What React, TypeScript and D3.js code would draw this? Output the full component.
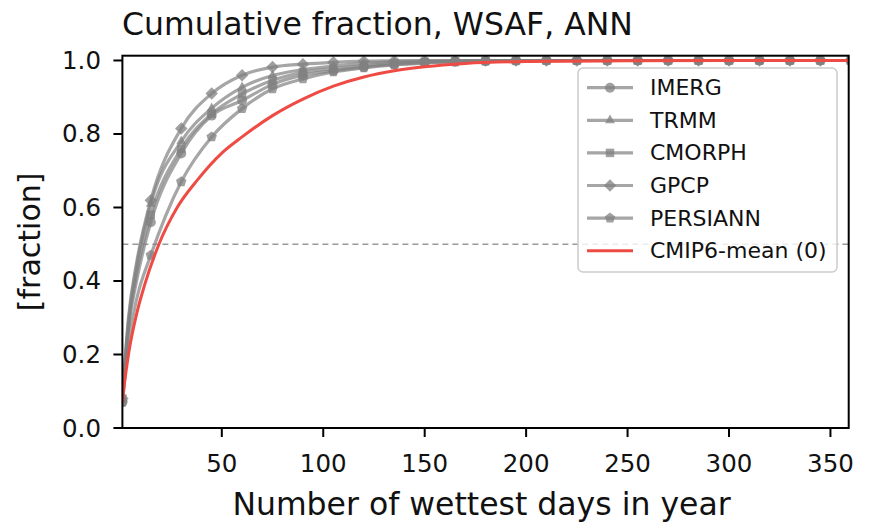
import React from "react";
import * as d3 from "d3";

const DAYS = [1, 4, 8, 15, 30, 45, 60, 75, 90, 105, 120, 135, 150, 165, 180, 195, 210, 225, 240, 255, 270, 285, 300, 315, 330, 345, 360];
const GPCP = [0.08, 0.30, 0.45, 0.62, 0.815, 0.91, 0.96, 0.982, 0.99, 0.995, 0.998, 0.999, 1, 1, 1, 1, 1, 1, 1, 1, 1, 1, 1, 1, 1, 1, 1];
const TRMM = [0.08, 0.29, 0.44, 0.61, 0.78, 0.87, 0.927, 0.959, 0.975, 0.985, 0.992, 0.996, 0.998, 0.999, 1, 1, 1, 1, 1, 1, 1, 1, 1, 1, 1, 1, 1];
const CMORPH = [0.08, 0.28, 0.42, 0.58, 0.76, 0.855, 0.909, 0.946, 0.968, 0.978, 0.986, 0.992, 0.996, 0.998, 0.999, 1, 1, 1, 1, 1, 1, 1, 1, 1, 1, 1, 1];
const IMERG = [0.07, 0.27, 0.40, 0.56, 0.747, 0.85, 0.891, 0.935, 0.96, 0.972, 0.982, 0.989, 0.994, 0.997, 0.999, 1, 1, 1, 1, 1, 1, 1, 1, 1, 1, 1, 1];
const PERSIANN = [0.07, 0.23, 0.35, 0.47, 0.67, 0.792, 0.869, 0.923, 0.95, 0.969, 0.98, 0.988, 0.993, 0.996, 0.998, 0.999, 1, 1, 1, 1, 1, 1, 1, 1, 1, 1, 1];

const CMIP_DAYS = [1, 2, 4, 8, 12, 19, 28, 38, 50, 60, 75, 90, 105, 120, 135, 150, 170, 200, 250, 300, 360];
const CMIP_MEAN = [0.07, 0.12, 0.2, 0.31, 0.39, 0.5, 0.6, 0.675, 0.748, 0.792, 0.85, 0.895, 0.93, 0.955, 0.972, 0.983, 0.992, 0.997, 0.999, 1, 1];

const X_TICKS = [50, 100, 150, 200, 250, 300, 350];
const Y_TICKS = [0, 0.2, 0.4, 0.6, 0.8, 1.0];

const SERIES = [
  { name: "IMERG", values: IMERG, marker: "circle" },
  { name: "TRMM", values: TRMM, marker: "triangle" },
  { name: "CMORPH", values: CMORPH, marker: "square" },
  { name: "GPCP", values: GPCP, marker: "diamond" },
  { name: "PERSIANN", values: PERSIANN, marker: "pentagon" },
];

const W = 871, H = 528;
const L = 122.4, R = 848.7, T = 55.7, B = 428;
const FONT = "DejaVu Sans";
const GRAY = "#808080";
const RED = "#ef4b45";

function markerPath(kind: string, r: number): string {
  const pts = (n: number, rot: number, rr: number) => {
    const p = d3.path();
    for (let i = 0; i < n; i++) {
      const a = rot + (i * 2 * Math.PI) / n;
      const x = rr * Math.cos(a), y = rr * Math.sin(a);
      if (i === 0) p.moveTo(x, y); else p.lineTo(x, y);
    }
    p.closePath();
    return p.toString();
  };
  switch (kind) {
    case "circle": {
      const p = d3.path(); p.arc(0, 0, r, 0, 2 * Math.PI); return p.toString();
    }
    case "triangle": return pts(3, -Math.PI / 2, r * 1.15);
    case "square": return pts(4, Math.PI / 4, r * 1.2);
    case "diamond": return pts(4, 0, r * 1.25);
    case "pentagon": return pts(5, -Math.PI / 2, r * 1.1);
  }
  return "";
}

export default function App() {
  const x = d3.scaleLinear().domain([1, 359]).range([L, R]);
  const y = d3.scaleLinear().domain([0, 1.013]).range([B, T]);
  const line = d3.line<[number, number]>().x(d => x(d[0])).y(d => y(d[1])).curve(d3.curveMonotoneX);

  const legX = 578, legY = 68, legW = 259, legH = 204;
  const rowY = (i: number) => 87.7 + i * 32.6;

  return (
    <svg width={W} height={H} style={{ position: "absolute", left: 0, top: 0, background: "#fff" }} fontFamily={FONT}>
      <defs>
        <clipPath id="plot"><rect x={L} y={T} width={R - L} height={B - T} /></clipPath>
      </defs>
      <rect x={0} y={0} width={W} height={H} fill="#fff" />
      <text x={122} y={35} fontSize={31.5} fill="#111">Cumulative fraction, WSAF, ANN</text>
      <g clipPath="url(#plot)">
        <line x1={L} x2={R} y1={y(0.5)} y2={y(0.5)} stroke="#999" strokeWidth={1.4} strokeDasharray="6,4" />
        {SERIES.map(s => {
          const data = DAYS.map((d, i) => [d, s.values[i]] as [number, number]);
          return (
            <g key={s.name}>
              <path d={line(data) || ""} fill="none" stroke={GRAY} strokeOpacity={0.7} strokeWidth={3.2} />
              {data.filter(d => d[0] === 1 || d[0] % 15 === 0).map((d, i) => (
                <path key={i} d={markerPath(s.marker, 5)} transform={`translate(${x(d[0])},${y(d[1])})`} fill={GRAY} fillOpacity={0.75} />
              ))}
            </g>
          );
        })}
        <path d={line(CMIP_DAYS.map((d, i) => [d, CMIP_MEAN[i]] as [number, number])) || ""} fill="none" stroke={RED} strokeWidth={3} />
      </g>
      <rect x={L} y={T} width={R - L} height={B - T} fill="none" stroke="#000" strokeWidth={2} />
      {X_TICKS.map(t => (
        <g key={t}>
          <line x1={x(t)} x2={x(t)} y1={B} y2={B + 9} stroke="#000" strokeWidth={2} />
          <text x={x(t)} y={472} fontSize={24.5} textAnchor="middle" fill="#111">{t}</text>
        </g>
      ))}
      {Y_TICKS.map(t => (
        <g key={t}>
          <line x1={L - 9} x2={L} y1={y(t)} y2={y(t)} stroke="#000" strokeWidth={2} />
          <text x={101} y={y(t)} fontSize={24.5} textAnchor="end" dominantBaseline="central" fill="#111">{t.toFixed(1)}</text>
        </g>
      ))}
      <text x={(L + R) / 2 - 4} y={515} fontSize={31.5} textAnchor="middle" fill="#111">Number of wettest days in year</text>
      <text transform={`translate(29,${(T + B) / 2}) rotate(-90)`} fontSize={30} textAnchor="middle" dominantBaseline="central" fill="#111">[fraction]</text>
      <rect x={legX} y={legY} width={legW} height={legH} rx={5} fill="#fff" fillOpacity={0.8} stroke="#ccc" strokeWidth={1.5} />
      {SERIES.map((s, i) => (
        <g key={s.name}>
          <line x1={587} x2={633} y1={rowY(i)} y2={rowY(i)} stroke={GRAY} strokeOpacity={0.7} strokeWidth={3.2} />
          <path d={markerPath(s.marker, 5)} transform={`translate(610,${rowY(i)})`} fill={GRAY} fillOpacity={0.75} />
          <text x={650} y={rowY(i)} fontSize={22} dominantBaseline="central" fill="#111">{s.name}</text>
        </g>
      ))}
      <line x1={587} x2={633} y1={rowY(5)} y2={rowY(5)} stroke={RED} strokeWidth={3} />
      <text x={650} y={rowY(5)} fontSize={22} dominantBaseline="central" fill="#111">CMIP6-mean (0)</text>
    </svg>
  );
}
